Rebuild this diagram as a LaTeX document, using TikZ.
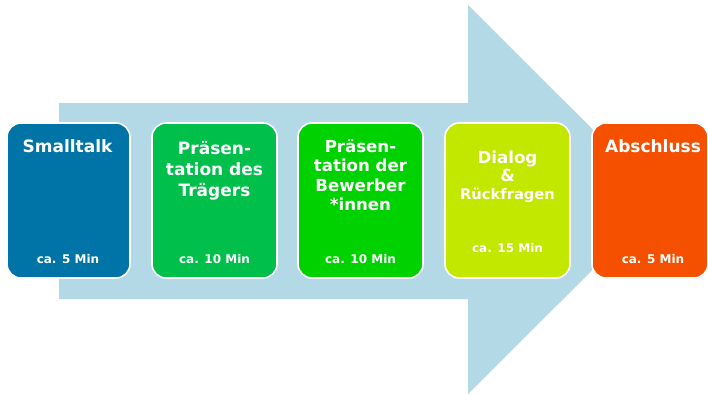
\documentclass[tikz,border=0pt]{standalone}
\usepackage{fontspec}
\setmainfont{DejaVu Sans}
\definecolor{arrowblue}{HTML}{B4D9E6}
\definecolor{c1}{HTML}{0074A6}
\definecolor{c2}{HTML}{00C04B}
\definecolor{c3}{HTML}{00D200}
\definecolor{c4}{HTML}{C2E800}
\definecolor{c5}{HTML}{F55000}
\tikzset{
  stage/.style={draw=white, line width=1.6pt, rounded corners=14pt, minimum height=155pt, inner sep=0pt},
  ttl/.style={text=white, font=\bfseries\fontsize{17}{21}\selectfont, align=center, inner sep=0pt},
  dur/.style={text=white, font=\bfseries\fontsize{12}{14}\selectfont, inner sep=0pt},
}
\begin{document}
\begin{tikzpicture}[x=1pt,y=-1pt]
\useasboundingbox (0,0) rectangle (708,394);
\fill[arrowblue] (59,103) -- (468,103) -- (468,5) -- (663,199.5) -- (468,394) -- (468,299) -- (59,299) -- cycle;
\node[stage, fill=c1, minimum width=123pt] (s1) at (68.5,200.5) {};
\node[stage, fill=c2, minimum width=125pt] (s2) at (214.5,200.5) {};
\node[stage, fill=c3, minimum width=125pt] (s3) at (360.5,200.5) {};
\node[stage, fill=c4, minimum width=125pt] (s4) at (507.5,200.5) {};
\node[stage, fill=c5, minimum width=116pt] (s5) at (650,200.5) {};
\node[ttl, anchor=base] (t1) at (67.5,152) {Smalltalk};
\node[ttl, anchor=base] (t2) at (214.5,196) {Präsen-\\tation des\\Trägers};
\node[ttl, font=\bfseries\fontsize{16.6}{19.5}\selectfont, anchor=base] (t3) at (360.5,210.5) {Präsen-\\tation der\\Bewerber\\*innen};
\node[ttl, font=\bfseries\fontsize{16.6}{18}\selectfont, anchor=base] (t4a) at (507.5,181) {Dialog\\\&};
\node[ttl, font=\bfseries\fontsize{14.7}{18}\selectfont, anchor=base] (t4b) at (507.5,199) {Rückfragen};
\node[ttl, anchor=base] (t5) at (653,152) {Abschluss};
\node[dur, anchor=base] (d1) at (68,263) {ca. 5 Min};
\node[dur, anchor=base] (d2) at (214.5,263) {ca. 10 Min};
\node[dur, anchor=base] (d3) at (360.5,263) {ca. 10 Min};
\node[dur, anchor=base] (d4) at (507.5,252) {ca. 15 Min};
\node[dur, anchor=base] (d5) at (653,263) {ca. 5 Min};
\end{tikzpicture}
\end{document}
